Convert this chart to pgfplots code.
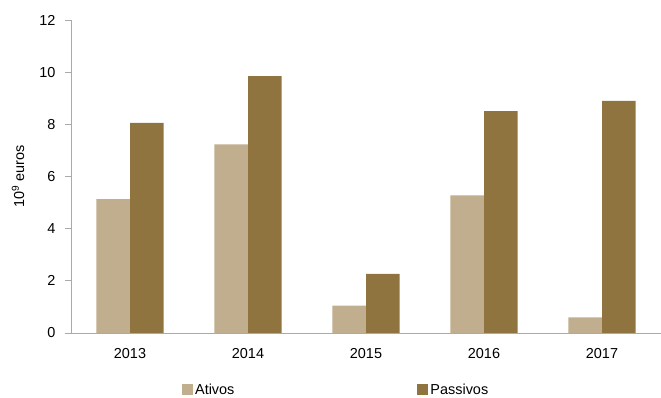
\documentclass[border=0pt]{standalone}
\usepackage{pgfplots}
\pgfplotsset{compat=1.18}
\usepackage{fontspec}
\setmainfont{Liberation Sans}
\definecolor{ativos}{RGB}{192,174,142}
\definecolor{passivos}{RGB}{143,116,64}
\definecolor{axgray}{RGB}{170,170,170}
\begin{document}
\begin{tikzpicture}
\useasboundingbox (0,0) rectangle (661bp,398bp);
\begin{axis}[
  at={(71bp,65bp)}, anchor=south west,
  scale only axis, width=590bp, height=313bp,
  ybar=0pt, bar width=33.7bp,
  xmin=-0.5, xmax=4.5, ymin=0, ymax=12,
  xtick=data, xticklabels={2013,2014,2015,2016,2017},
  ytick={0,2,4,6,8,10,12},
  axis x line*=bottom, axis y line*=left,
  axis line style={axgray, line width=0.8bp},
  x axis line style={-}, y axis line style={-},
  x tick style={draw=none},
  y tick style={axgray, line width=0.8bp},
  tick align=outside, major tick length=6bp,
  /pgf/number format/assume math mode=true,
  tick label style={font=\fontsize{14.5}{17}\selectfont},
  yticklabel style={xshift=-6bp},
  xticklabel style={yshift=-6bp},
  ylabel={10\textsuperscript{9} euros},
  every axis y label/.style={at={(-53bp,156.5bp)}, anchor=center, rotate=90, font=\fontsize{14.5}{17}\selectfont},
  legend style={at={(0.188,-0.182)}, anchor=west, draw=none, fill=none,
    legend columns=2, font=\fontsize{14.5}{17}\selectfont,
    /tikz/every even column/.append style={column sep=181bp},
    inner sep=0pt},
  legend image code/.code={\fill[#1] (0bp,-5.5bp) rectangle (11bp,5.5bp);},
]
\addplot[fill=ativos, draw=none] coordinates {(0,5.13) (1,7.23) (2,1.05) (3,5.28) (4,0.60)};
\addplot[fill=passivos, draw=none] coordinates {(0,8.06) (1,9.85) (2,2.27) (3,8.51) (4,8.90)};
\legend{Ativos,Passivos}
\end{axis}
\end{tikzpicture}
\end{document}
